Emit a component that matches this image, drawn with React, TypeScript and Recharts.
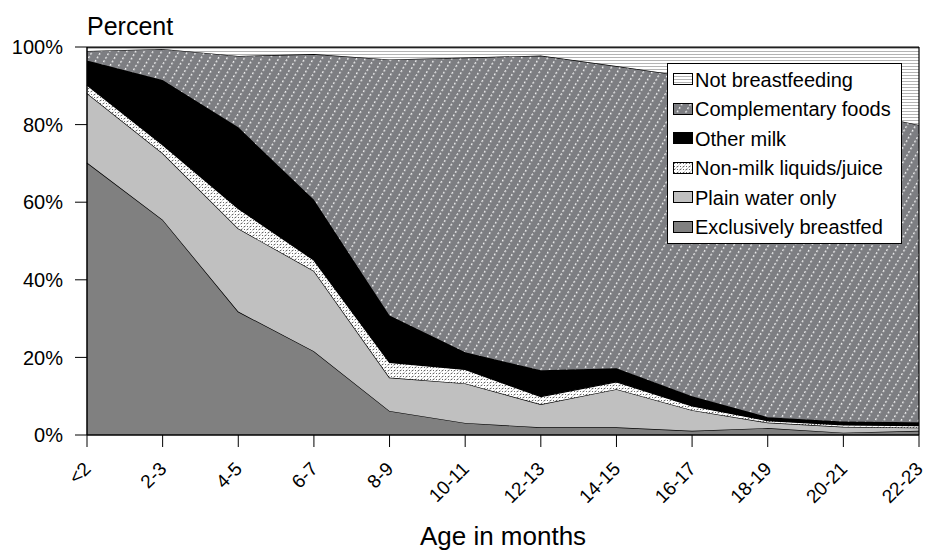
import React from 'react';
import { AreaChart, Area, XAxis, YAxis, Legend, ReferenceLine, Label } from 'recharts';

const categories = ['<2', '2-3', '4-5', '6-7', '8-9', '10-11', '12-13', '14-15', '16-17', '18-19', '20-21', '22-23'];
const exclusivelyBreastfed = [70.2, 55.5, 31.8, 21.6, 6.2, 3.1, 2.0, 2.0, 1.1, 1.8, 0.6, 1.1];
const plainWaterOnly = [17.9, 17.1, 21.4, 20.7, 8.6, 10.2, 5.9, 9.8, 5.3, 1.4, 1.5, 0.8];
const nonMilkLiquids = [2.1, 2.2, 5.2, 2.8, 3.9, 3.6, 2.0, 1.9, 1.1, 0.5, 0.5, 0.5];
const otherMilk = [6.3, 16.7, 20.9, 15.5, 12.1, 4.4, 6.8, 3.5, 2.5, 0.9, 0.9, 0.9];
const complementaryFoods = [2.5, 8.0, 18.4, 37.6, 66.0, 76.0, 81.1, 77.9, 82.3, 83.5, 80.5, 76.6];
const notBreastfeeding = [1.0, 0.5, 2.3, 1.8, 3.2, 2.7, 2.2, 4.9, 7.7, 11.9, 16.0, 20.1];
const yTicks = [0, 20, 40, 60, 80, 100];

const seriesKeys = ['ebf', 'water', 'nonmilk', 'othermilk', 'comp', 'notbf'];
const seriesNames = [
  'Exclusively breastfed',
  'Plain water only',
  'Non-milk liquids/juice',
  'Other milk',
  'Complementary foods',
  'Not breastfeeding',
];
const seriesFills = ['#808080', '#c0c0c0', 'url(#patNonMilk)', '#000000', 'url(#patComp)', 'url(#patNotBf)'];

const data = categories.map((c, i) => ({
  age: c,
  ebf: exclusivelyBreastfed[i],
  water: plainWaterOnly[i],
  nonmilk: nonMilkLiquids[i],
  othermilk: otherMilk[i],
  comp: complementaryFoods[i],
  notbf: notBreastfeeding[i],
}));

const FONT = '"Liberation Sans", Arial, Helvetica, sans-serif';

const XTick = (props: any) => {
  const { x, y, payload } = props;
  return (
    <g transform={`translate(${x + 5},${y + 21})`}>
      <text transform="rotate(-45)" textAnchor="end" fontSize={19} fontFamily={FONT} fill="#000">
        {payload.value}
      </text>
    </g>
  );
};

const LegendContent = () => {
  const order = [5, 4, 3, 2, 1, 0];
  return (
    <div
      style={{
        width: 233,
        height: 178,
        border: '1px solid #000',
        background: '#fff',
        fontFamily: FONT,
        fontSize: 20,
        color: '#000',
        paddingTop: 1,
        boxSizing: 'content-box',
      }}
    >
      {order.map((idx) => (
        <div key={seriesKeys[idx]} style={{ display: 'flex', alignItems: 'center', height: 29.5, paddingLeft: 5 }}>
          <svg width={21} height={13} style={{ marginRight: 1 }}>
            <rect x={0.5} y={0.5} width={19} height={11} fill={seriesFills[idx]} stroke="#000" strokeWidth={1} />
          </svg>
          <span style={{ whiteSpace: 'nowrap', lineHeight: '20px' }}>{seriesNames[idx]}</span>
        </div>
      ))}
    </div>
  );
};

export default function App() {
  return (
    <div style={{ position: 'absolute', left: 0, top: 0, width: 928, height: 559, background: '#fff' }}>
      <AreaChart width={928} height={559} data={data} margin={{ top: 47, right: 9, bottom: 0, left: 0 }}>
        <defs>
          <pattern id="patNotBf" patternUnits="userSpaceOnUse" width={4} height={3}>
            <rect width={4} height={3} fill="#ffffff" />
            <rect y={0} width={4} height={1} fill="#b4b4b4" />
          </pattern>
          <pattern id="patComp" patternUnits="userSpaceOnUse" width={7.5} height={4} patternTransform="rotate(30)">
            <rect width={7.5} height={4} fill="#7d7e82" />
            <rect x={0} y={0} width={1.3} height={2} fill="#f0f0f0" />
          </pattern>
          <pattern id="patNonMilk" patternUnits="userSpaceOnUse" width={6} height={6}>
            <rect width={6} height={6} fill="#ffffff" />
            <path d="M0.5 2 L2.5 0.8" stroke="#555" strokeWidth={1} />
            <path d="M3.5 5.2 L5.5 4" stroke="#555" strokeWidth={1} />
            <rect x={4} y={1} width={1} height={1} fill="#666" />
            <rect x={1} y={4} width={1} height={1} fill="#666" />
          </pattern>
        </defs>
        <XAxis
          dataKey="age"
          height={124}
          tick={<XTick />}
          tickSize={12}
          tickLine={{ stroke: '#000', strokeWidth: 1 }}
          axisLine={{ stroke: '#000', strokeWidth: 1.5 }}
          interval={0}
        >
          <Label
            content={() => (
              <text x={503} y={545} textAnchor="middle" fontSize={26} fontFamily={FONT} fill="#000">
                Age in months
              </text>
            )}
          />
        </XAxis>
        <YAxis
          width={87}
          domain={[0, 100]}
          ticks={yTicks}
          tickFormatter={(v: number) => `${v}%`}
          tickSize={12}
          tickMargin={12}
          tick={{ fontSize: 20, fontFamily: FONT, fill: '#000' }}
          tickLine={{ stroke: '#000', strokeWidth: 1 }}
          axisLine={{ stroke: '#000', strokeWidth: 1.5 }}
          allowDataOverflow
        >
          <Label
            content={() => (
              <text x={87} y={35} textAnchor="start" fontSize={25} fontFamily={FONT} fill="#000">
                Percent
              </text>
            )}
          />
        </YAxis>
        {seriesKeys.map((k, i) => (
          <Area
            key={k}
            type="linear"
            dataKey={k}
            name={seriesNames[i]}
            stackId="1"
            fill={seriesFills[i]}
            fillOpacity={1}
            stroke="#000"
            strokeWidth={1.3}
            isAnimationActive={false}
            dot={false}
            activeDot={false}
          />
        ))}
        <ReferenceLine y={100} stroke="#000" strokeWidth={1.2} />
        <ReferenceLine x="22-23" stroke="#000" strokeWidth={1.2} />
        <Legend
          layout="vertical"
          align="center"
          verticalAlign="middle"
          content={<LegendContent />}
          wrapperStyle={{ position: 'absolute', left: 667, top: 63, width: 235, height: 180 }}
        />
      </AreaChart>
    </div>
  );
}
